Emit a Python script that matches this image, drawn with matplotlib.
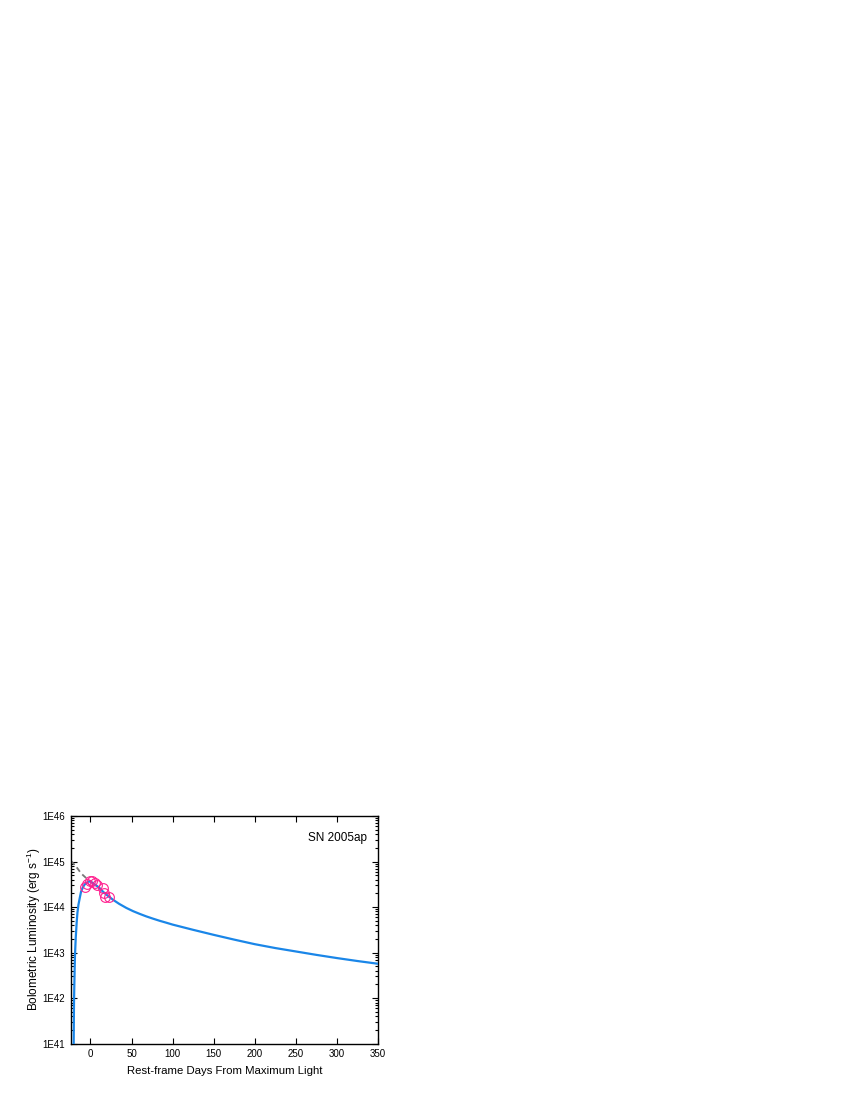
import numpy as np
import matplotlib
matplotlib.use("Agg")
import matplotlib.pyplot as plt
import matplotlib.ticker as mtick

plt.rcParams['font.family'] = ['Liberation Sans', 'DejaVu Sans']

# model light curve (day, log10 L)
model_day = [-20.4, -20.2, -20.0, -19.6, -19.2, -18.8, -17.9, -16.7, -15.8, -14.6, -13.0,
             -11.4, -9.5, -7.3, -5.0, -2.4, 0.0, 2.8, 5.5, 8.9, 11.3, 14.0, 17.0, 21.0,
             27.5, 35.0, 43.8, 51.9, 60.0, 68.0, 76.2, 84.0, 92.6, 100.0, 125.0,
             150.0, 175.0, 200.0, 225.0, 250.0, 275.0, 300.0, 325.0, 350.0]
model_logL = [41.0, 41.5, 41.9, 42.3, 42.65, 42.95, 43.32, 43.68, 43.88, 44.05, 44.2,
              44.34, 44.42, 44.49, 44.53, 44.56, 44.56, 44.53, 44.49, 44.45, 44.41, 44.36,
              44.31, 44.25, 44.16, 44.07, 43.98, 43.91, 43.85, 43.795, 43.745, 43.70, 43.655,
              43.615, 43.50, 43.39, 43.285, 43.185, 43.10, 43.025, 42.95, 42.88, 42.815, 42.755]

# dashed early-time model
early_day = [-24.0, -17.0, -11.4, -6.0, -2.0, 3.0, 8.0, 15.0]
early_logL = [45.02, 44.88, 44.74, 44.65, 44.59, 44.52, 44.46, 44.36]

# observed points
obs_day = [-7.0, -4.5, -1.0, 2.0, 5.0, 8.0, 15.0, 17.0, 18.0, 22.0]
obs_logL = [44.44, 44.5, 44.58, 44.58, 44.52, 44.49, 44.42, 44.3, 44.22, 44.22]

fig = plt.figure(figsize=(8.5, 11), dpi=100)
ax = fig.add_axes([0.0832, 0.0512, 0.3615, 0.207])

ax.plot(early_day, 10 ** np.array(early_logL), color='#777777', ls=(0, (3, 2)), lw=1.3, zorder=2)
ax.plot(model_day, 10 ** np.array(model_logL), color='#1a86e8', lw=1.6, zorder=3)
ax.plot(obs_day, 10 ** np.array(obs_logL), 'o', mfc='none', mec='#ff1f8e', ms=7, mew=0.8, zorder=4)

ax.set_yscale('log')
ax.set_xlim(-24, 350)
ax.set_ylim(1e41, 1e46)

ax.set_xticks([0, 50, 100, 150, 200, 250, 300, 350])
ax.yaxis.set_major_locator(mtick.FixedLocator([1e41, 1e42, 1e43, 1e44, 1e45, 1e46]))
ax.set_yticklabels(['1E41', '1E42', '1E43', '1E44', '1E45', '1E46'])
ax.yaxis.set_minor_locator(mtick.LogLocator(base=10, subs=np.arange(2, 10), numticks=20))
ax.yaxis.set_minor_formatter(mtick.NullFormatter())

ax.tick_params(which='both', direction='in', top=True, right=True, labelsize=7, width=0.8)
ax.tick_params(which='major', length=4, pad=4)
ax.tick_params(which='minor', length=2)
for s in ax.spines.values():
    s.set_linewidth(1.0)

ax.set_xlabel('Rest-frame Days From Maximum Light', fontsize=8.2, labelpad=5)
ax.set_ylabel('Bolometric Luminosity (erg s$^{\\mathregular{-1}}$)', fontsize=8.5, labelpad=-0.5)
ax.text(0.965, 0.93, 'SN 2005ap', transform=ax.transAxes, ha='right', va='top', fontsize=8.5)

fig.savefig('out.png', dpi=100)
